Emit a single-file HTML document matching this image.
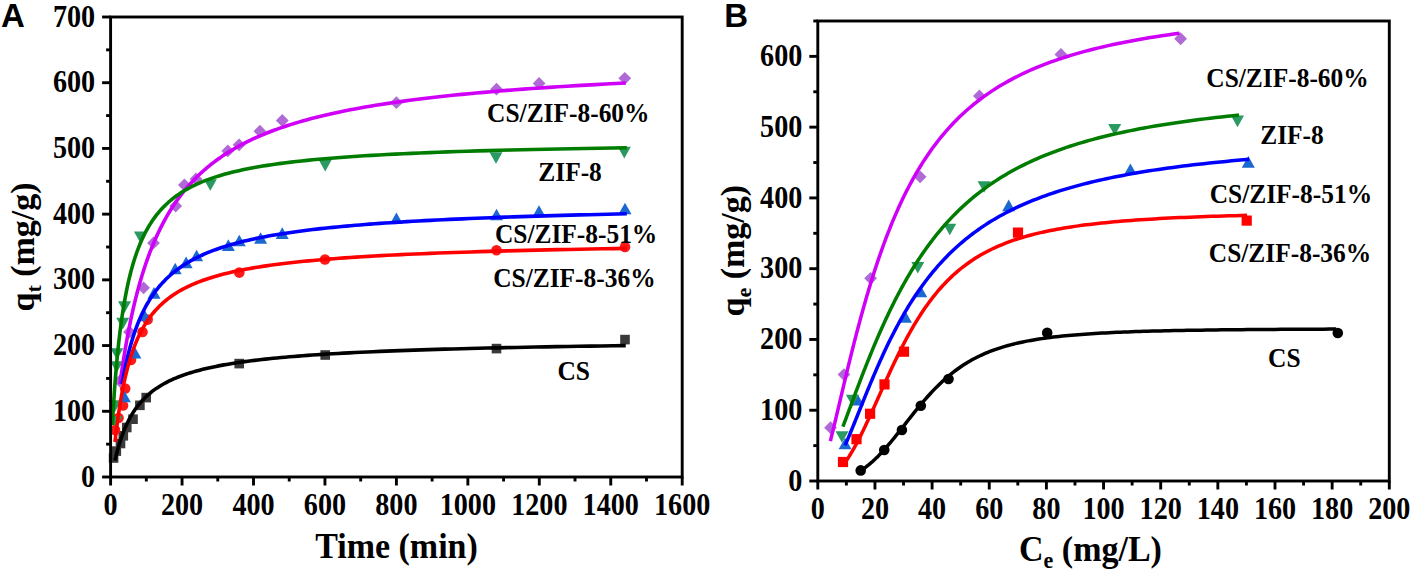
<!DOCTYPE html>
<html><head><meta charset="utf-8"><style>
html,body{margin:0;padding:0;background:#fff;}
body{width:1417px;height:576px;overflow:hidden;position:relative;}
svg{position:absolute;left:0;top:0;}
</style></head><body>
<svg width="1417" height="576" viewBox="0 0 1417 576">
<rect width="1417" height="576" fill="#fff"/>
<rect x="108.80" y="453.20" width="9.60" height="9.60" fill="#3a3a3a"/>
<rect x="111.50" y="446.30" width="9.60" height="9.60" fill="#3a3a3a"/>
<rect x="115.70" y="438.70" width="9.60" height="9.60" fill="#3a3a3a"/>
<rect x="118.50" y="431.00" width="9.60" height="9.60" fill="#3a3a3a"/>
<rect x="121.95" y="422.70" width="9.60" height="9.60" fill="#3a3a3a"/>
<rect x="128.20" y="414.40" width="9.60" height="9.60" fill="#3a3a3a"/>
<rect x="135.10" y="400.50" width="9.60" height="9.60" fill="#3a3a3a"/>
<rect x="141.40" y="392.80" width="9.60" height="9.60" fill="#3a3a3a"/>
<rect x="234.40" y="358.80" width="9.60" height="9.60" fill="#3a3a3a"/>
<rect x="320.40" y="350.20" width="9.60" height="9.60" fill="#3a3a3a"/>
<rect x="491.70" y="343.80" width="9.60" height="9.60" fill="#3a3a3a"/>
<rect x="620.20" y="334.80" width="9.60" height="9.60" fill="#3a3a3a"/>
<circle cx="115.00" cy="430.00" r="5.30" fill="#ff1a1a"/>
<circle cx="118.50" cy="418.00" r="5.30" fill="#ff1a1a"/>
<circle cx="123.00" cy="405.50" r="5.30" fill="#ff1a1a"/>
<circle cx="125.20" cy="388.50" r="5.30" fill="#ff1a1a"/>
<circle cx="131.00" cy="360.00" r="5.30" fill="#ff1a1a"/>
<circle cx="142.50" cy="332.00" r="5.30" fill="#ff1a1a"/>
<circle cx="147.70" cy="319.60" r="5.30" fill="#ff1a1a"/>
<circle cx="239.30" cy="272.60" r="5.30" fill="#ff1a1a"/>
<circle cx="325.00" cy="259.50" r="5.30" fill="#ff1a1a"/>
<circle cx="496.50" cy="250.30" r="5.30" fill="#ff1a1a"/>
<circle cx="625.00" cy="246.90" r="5.30" fill="#ff1a1a"/>
<path d="M124.40,390.77 L130.90,402.37 L117.90,402.37Z" fill="#1c68d2"/>
<path d="M134.90,346.97 L141.40,358.57 L128.40,358.57Z" fill="#1c68d2"/>
<path d="M144.50,309.57 L151.00,321.17 L138.00,321.17Z" fill="#1c68d2"/>
<path d="M154.00,287.07 L160.50,298.67 L147.50,298.67Z" fill="#1c68d2"/>
<path d="M175.20,262.77 L181.70,274.37 L168.70,274.37Z" fill="#1c68d2"/>
<path d="M186.10,256.57 L192.60,268.17 L179.60,268.17Z" fill="#1c68d2"/>
<path d="M196.60,249.77 L203.10,261.37 L190.10,261.37Z" fill="#1c68d2"/>
<path d="M228.30,239.37 L234.80,250.97 L221.80,250.97Z" fill="#1c68d2"/>
<path d="M239.30,234.67 L245.80,246.27 L232.80,246.27Z" fill="#1c68d2"/>
<path d="M260.60,232.27 L267.10,243.87 L254.10,243.87Z" fill="#1c68d2"/>
<path d="M282.20,227.37 L288.70,238.97 L275.70,238.97Z" fill="#1c68d2"/>
<path d="M396.40,212.47 L402.90,224.07 L389.90,224.07Z" fill="#1c68d2"/>
<path d="M496.50,208.77 L503.00,220.37 L490.00,220.37Z" fill="#1c68d2"/>
<path d="M539.00,205.27 L545.50,216.87 L532.50,216.87Z" fill="#1c68d2"/>
<path d="M625.00,202.67 L631.50,214.27 L618.50,214.27Z" fill="#1c68d2"/>
<path d="M115.00,411.73 L121.50,400.13 L108.50,400.13Z" fill="#2a9a62"/>
<path d="M115.80,427.73 L122.30,416.13 L109.30,416.13Z" fill="#2a9a62"/>
<path d="M116.70,372.73 L123.20,361.13 L110.20,361.13Z" fill="#2a9a62"/>
<path d="M116.90,359.73 L123.40,348.13 L110.40,348.13Z" fill="#2a9a62"/>
<path d="M122.75,329.43 L129.25,317.83 L116.25,317.83Z" fill="#2a9a62"/>
<path d="M124.50,312.93 L131.00,301.33 L118.00,301.33Z" fill="#2a9a62"/>
<path d="M140.40,243.03 L146.90,231.43 L133.90,231.43Z" fill="#2a9a62"/>
<path d="M210.30,190.73 L216.80,179.13 L203.80,179.13Z" fill="#2a9a62"/>
<path d="M325.20,171.43 L331.70,159.83 L318.70,159.83Z" fill="#2a9a62"/>
<path d="M496.00,163.73 L502.50,152.13 L489.50,152.13Z" fill="#2a9a62"/>
<path d="M624.30,158.43 L630.80,146.83 L617.80,146.83Z" fill="#2a9a62"/>
<path d="M119.80,374.60 L126.20,381.00 L119.80,387.40 L113.40,381.00Z" fill="#b06ad6"/>
<path d="M129.50,325.60 L135.90,332.00 L129.50,338.40 L123.10,332.00Z" fill="#b06ad6"/>
<path d="M143.60,281.40 L150.00,287.80 L143.60,294.20 L137.20,287.80Z" fill="#b06ad6"/>
<path d="M153.50,236.50 L159.90,242.90 L153.50,249.30 L147.10,242.90Z" fill="#b06ad6"/>
<path d="M175.70,199.60 L182.10,206.00 L175.70,212.40 L169.30,206.00Z" fill="#b06ad6"/>
<path d="M184.40,178.60 L190.80,185.00 L184.40,191.40 L178.00,185.00Z" fill="#b06ad6"/>
<path d="M196.00,172.60 L202.40,179.00 L196.00,185.40 L189.60,179.00Z" fill="#b06ad6"/>
<path d="M227.80,144.50 L234.20,150.90 L227.80,157.30 L221.40,150.90Z" fill="#b06ad6"/>
<path d="M239.10,138.40 L245.50,144.80 L239.10,151.20 L232.70,144.80Z" fill="#b06ad6"/>
<path d="M259.90,124.80 L266.30,131.20 L259.90,137.60 L253.50,131.20Z" fill="#b06ad6"/>
<path d="M282.30,114.10 L288.70,120.50 L282.30,126.90 L275.90,120.50Z" fill="#b06ad6"/>
<path d="M396.40,96.30 L402.80,102.70 L396.40,109.10 L390.00,102.70Z" fill="#b06ad6"/>
<path d="M496.50,82.80 L502.90,89.20 L496.50,95.60 L490.10,89.20Z" fill="#b06ad6"/>
<path d="M539.10,77.00 L545.50,83.40 L539.10,89.80 L532.70,83.40Z" fill="#b06ad6"/>
<path d="M624.80,71.90 L631.20,78.30 L624.80,84.70 L618.40,78.30Z" fill="#b06ad6"/>
<path d="M119.95,384.30 L120.14,382.89 L120.33,381.45 L120.53,380.01 L120.73,378.55 L120.94,377.07 L121.15,375.58 L121.36,374.07 L121.58,372.54 L121.81,371.00 L122.03,369.45 L122.27,367.88 L122.50,366.30 L122.75,364.70 L122.99,363.08 L123.25,361.45 L123.50,359.81 L123.77,358.15 L124.03,356.47 L124.31,354.78 L124.59,353.08 L124.87,351.36 L125.16,349.63 L125.46,347.89 L125.76,346.13 L126.07,344.36 L126.38,342.57 L126.70,340.78 L127.03,338.96 L127.37,337.14 L127.71,335.30 L128.06,333.46 L128.41,331.60 L128.77,329.72 L129.14,327.84 L129.52,325.95 L129.91,324.04 L130.30,322.12 L130.70,320.20 L131.11,318.26 L131.53,316.31 L131.95,314.36 L132.39,312.39 L132.83,310.42 L133.28,308.43 L133.74,306.44 L134.22,304.44 L134.70,302.44 L135.19,300.42 L135.69,298.40 L136.20,296.37 L136.72,294.34 L137.25,292.30 L137.79,290.26 L138.35,288.21 L138.91,286.15 L139.49,284.10 L140.07,282.03 L140.67,279.97 L141.29,277.90 L141.91,275.83 L142.55,273.76 L143.20,271.68 L143.86,269.60 L144.54,267.53 L145.23,265.45 L145.93,263.37 L146.65,261.29 L147.39,259.21 L148.14,257.14 L148.90,255.06 L149.68,252.99 L150.47,250.92 L151.29,248.85 L152.11,246.78 L152.96,244.72 L153.82,242.66 L154.70,240.61 L155.60,238.56 L156.51,236.51 L157.45,234.47 L158.40,232.44 L159.37,230.41 L160.37,228.39 L161.38,226.38 L162.41,224.37 L163.47,222.37 L164.54,220.38 L165.64,218.40 L166.76,216.42 L167.90,214.46 L169.07,212.50 L170.26,210.56 L171.47,208.62 L172.71,206.69 L173.98,204.78 L175.27,202.87 L176.58,200.98 L177.93,199.10 L179.30,197.23 L180.70,195.37 L182.12,193.52 L183.58,191.69 L185.06,189.86 L186.58,188.06 L188.12,186.26 L189.70,184.48 L191.31,182.71 L192.95,180.95 L194.63,179.21 L196.34,177.49 L198.09,175.77 L199.87,174.07 L201.68,172.39 L203.54,170.72 L205.43,169.07 L207.36,167.43 L209.33,165.80 L211.34,164.20 L213.39,162.60 L215.48,161.02 L217.61,159.46 L219.79,157.91 L222.01,156.38 L224.28,154.87 L226.59,153.37 L228.96,151.88 L231.36,150.41 L233.82,148.96 L236.33,147.53 L238.89,146.10 L241.50,144.70 L244.16,143.31 L246.88,141.94 L249.66,140.58 L252.49,139.24 L255.37,137.92 L258.32,136.61 L261.33,135.32 L264.39,134.04 L267.52,132.78 L270.72,131.53 L273.98,130.30 L277.30,129.09 L280.69,127.89 L284.16,126.71 L287.69,125.54 L291.29,124.39 L294.97,123.26 L298.72,122.13 L302.55,121.03 L306.46,119.94 L310.44,118.86 L314.51,117.80 L318.66,116.76 L322.89,115.72 L327.21,114.71 L331.62,113.71 L336.12,112.72 L340.71,111.74 L345.39,110.79 L350.17,109.84 L355.05,108.91 L360.02,107.99 L365.10,107.09 L370.28,106.20 L375.56,105.32 L380.96,104.46 L386.46,103.61 L392.07,102.77 L397.80,101.94 L403.65,101.13 L409.61,100.33 L415.70,99.55 L421.91,98.77 L428.24,98.01 L434.71,97.26 L441.30,96.52 L448.03,95.80 L454.90,95.08 L461.91,94.38 L469.06,93.69 L476.35,93.01 L483.80,92.34 L491.39,91.68 L499.14,91.03 L507.05,90.40 L515.12,89.77 L523.35,89.15 L531.75,88.55 L540.32,87.95 L549.07,87.37 L557.99,86.79 L567.10,86.23 L576.39,85.67 L585.87,85.13 L595.54,84.59 L605.41,84.06 L615.48,83.54 L625.75,83.03" fill="none" stroke="#d000f8" stroke-width="3.6" stroke-linejoin="round" stroke-linecap="butt"/>
<path d="M112.41,425.00 L112.46,423.97 L112.52,422.91 L112.57,421.84 L112.63,420.76 L112.69,419.65 L112.75,418.52 L112.81,417.38 L112.87,416.21 L112.94,415.03 L113.01,413.82 L113.08,412.60 L113.15,411.35 L113.22,410.09 L113.30,408.80 L113.37,407.50 L113.45,406.17 L113.54,404.82 L113.62,403.45 L113.71,402.06 L113.80,400.65 L113.89,399.22 L113.98,397.77 L114.08,396.29 L114.18,394.79 L114.28,393.28 L114.39,391.74 L114.50,390.18 L114.61,388.59 L114.73,386.99 L114.85,385.36 L114.97,383.72 L115.10,382.05 L115.22,380.36 L115.36,378.65 L115.50,376.91 L115.64,375.16 L115.78,373.39 L115.93,371.59 L116.08,369.78 L116.24,367.94 L116.40,366.09 L116.57,364.21 L116.74,362.32 L116.92,360.40 L117.10,358.47 L117.29,356.52 L117.48,354.55 L117.68,352.56 L117.89,350.55 L118.10,348.53 L118.31,346.49 L118.53,344.44 L118.76,342.37 L119.00,340.28 L119.24,338.18 L119.49,336.07 L119.74,333.94 L120.01,331.80 L120.28,329.65 L120.56,327.49 L120.84,325.31 L121.14,323.13 L121.44,320.93 L121.76,318.73 L122.08,316.52 L122.41,314.30 L122.75,312.07 L123.10,309.84 L123.46,307.61 L123.83,305.37 L124.21,303.12 L124.60,300.88 L125.01,298.63 L125.42,296.38 L125.85,294.13 L126.29,291.88 L126.74,289.64 L127.20,287.39 L127.68,285.15 L128.17,282.91 L128.68,280.68 L129.20,278.46 L129.74,276.24 L130.29,274.03 L130.86,271.82 L131.44,269.63 L132.04,267.45 L132.66,265.27 L133.29,263.11 L133.95,260.96 L134.62,258.82 L135.31,256.70 L136.02,254.59 L136.76,252.50 L137.51,250.42 L138.29,248.36 L139.08,246.32 L139.90,244.29 L140.75,242.29 L141.62,240.30 L142.51,238.33 L143.43,236.38 L144.38,234.46 L145.35,232.55 L146.35,230.66 L147.38,228.80 L148.44,226.96 L149.53,225.14 L150.65,223.35 L151.81,221.57 L152.99,219.82 L154.21,218.10 L155.47,216.40 L156.76,214.72 L158.09,213.07 L159.46,211.45 L160.87,209.84 L162.32,208.27 L163.81,206.72 L165.34,205.19 L166.92,203.69 L168.54,202.21 L170.21,200.76 L171.93,199.33 L173.70,197.93 L175.51,196.56 L177.38,195.21 L179.31,193.88 L181.29,192.58 L183.32,191.30 L185.42,190.05 L187.57,188.82 L189.79,187.62 L192.07,186.44 L194.42,185.29 L196.84,184.15 L199.32,183.05 L201.88,181.96 L204.51,180.90 L207.21,179.86 L210.00,178.84 L212.86,177.84 L215.81,176.87 L218.84,175.92 L221.96,174.99 L225.16,174.08 L228.46,173.19 L231.86,172.32 L235.35,171.47 L238.95,170.64 L242.65,169.83 L246.45,169.04 L250.36,168.27 L254.39,167.51 L258.53,166.78 L262.80,166.06 L267.18,165.36 L271.69,164.68 L276.33,164.01 L281.11,163.36 L286.02,162.73 L291.08,162.11 L296.28,161.50 L301.62,160.92 L307.13,160.34 L312.79,159.79 L318.62,159.24 L324.61,158.71 L330.77,158.20 L337.12,157.69 L343.64,157.20 L350.36,156.73 L357.27,156.26 L364.37,155.81 L371.69,155.37 L379.21,154.94 L386.95,154.53 L394.91,154.12 L403.10,153.72 L411.53,153.34 L420.20,152.97 L429.12,152.60 L438.29,152.25 L447.74,151.90 L457.45,151.57 L467.44,151.24 L477.72,150.92 L488.30,150.61 L499.18,150.31 L510.38,150.02 L521.90,149.74 L533.75,149.46 L545.94,149.20 L558.48,148.93 L571.38,148.68 L584.66,148.43 L598.32,148.19 L612.37,147.96 L626.83,147.74" fill="none" stroke="#007c00" stroke-width="3.6" stroke-linejoin="round" stroke-linecap="butt"/>
<path d="M122.06,384.00 L122.28,382.73 L122.51,381.45 L122.74,380.17 L122.97,378.88 L123.21,377.58 L123.45,376.28 L123.70,374.97 L123.96,373.66 L124.21,372.35 L124.48,371.03 L124.75,369.70 L125.02,368.37 L125.30,367.04 L125.58,365.70 L125.87,364.36 L126.17,363.02 L126.47,361.68 L126.77,360.33 L127.09,358.98 L127.40,357.63 L127.73,356.27 L128.06,354.92 L128.40,353.56 L128.74,352.20 L129.09,350.84 L129.45,349.49 L129.81,348.13 L130.18,346.77 L130.56,345.41 L130.95,344.05 L131.34,342.69 L131.74,341.34 L132.15,339.98 L132.57,338.63 L132.99,337.28 L133.42,335.93 L133.86,334.58 L134.31,333.24 L134.77,331.89 L135.24,330.56 L135.71,329.22 L136.20,327.89 L136.69,326.56 L137.20,325.23 L137.71,323.91 L138.23,322.60 L138.77,321.29 L139.31,319.98 L139.87,318.68 L140.43,317.38 L141.01,316.09 L141.60,314.80 L142.20,313.52 L142.81,312.25 L143.43,310.98 L144.06,309.72 L144.71,308.46 L145.37,307.22 L146.04,305.97 L146.72,304.74 L147.42,303.51 L148.13,302.29 L148.86,301.08 L149.60,299.87 L150.35,298.67 L151.12,297.48 L151.90,296.30 L152.70,295.13 L153.51,293.96 L154.34,292.80 L155.19,291.65 L156.05,290.51 L156.93,289.38 L157.82,288.25 L158.73,287.14 L159.66,286.03 L160.61,284.93 L161.58,283.84 L162.56,282.77 L163.56,281.69 L164.59,280.63 L165.63,279.58 L166.69,278.54 L167.78,277.50 L168.88,276.48 L170.01,275.47 L171.16,274.46 L172.33,273.46 L173.52,272.48 L174.73,271.50 L175.97,270.53 L177.23,269.58 L178.52,268.63 L179.83,267.69 L181.17,266.76 L182.54,265.84 L183.92,264.93 L185.34,264.03 L186.79,263.14 L188.26,262.26 L189.76,261.39 L191.29,260.53 L192.84,259.68 L194.43,258.83 L196.05,258.00 L197.70,257.18 L199.39,256.36 L201.10,255.56 L202.85,254.76 L204.63,253.97 L206.45,253.20 L208.30,252.43 L210.19,251.67 L212.11,250.92 L214.07,250.18 L216.07,249.45 L218.11,248.73 L220.19,248.02 L222.30,247.31 L224.46,246.62 L226.66,245.93 L228.90,245.25 L231.19,244.58 L233.52,243.92 L235.89,243.27 L238.31,242.63 L240.78,241.99 L243.29,241.37 L245.86,240.75 L248.47,240.14 L251.13,239.53 L253.85,238.94 L256.62,238.36 L259.44,237.78 L262.31,237.21 L265.24,236.65 L268.23,236.09 L271.27,235.54 L274.38,235.01 L277.54,234.47 L280.77,233.95 L284.06,233.43 L287.41,232.92 L290.82,232.42 L294.30,231.93 L297.85,231.44 L301.47,230.96 L305.16,230.48 L308.91,230.02 L312.75,229.56 L316.65,229.10 L320.63,228.66 L324.69,228.22 L328.82,227.78 L333.04,227.35 L337.34,226.93 L341.72,226.52 L346.18,226.11 L350.73,225.71 L355.37,225.31 L360.10,224.92 L364.92,224.53 L369.83,224.16 L374.84,223.78 L379.95,223.41 L385.15,223.05 L390.45,222.70 L395.86,222.35 L401.37,222.00 L406.99,221.66 L412.71,221.32 L418.55,221.00 L424.50,220.67 L430.56,220.35 L436.74,220.04 L443.04,219.73 L449.46,219.42 L456.01,219.12 L462.68,218.83 L469.49,218.54 L476.42,218.25 L483.49,217.97 L490.69,217.69 L498.03,217.42 L505.52,217.15 L513.14,216.89 L520.92,216.63 L528.85,216.37 L536.93,216.12 L545.16,215.87 L553.56,215.63 L562.11,215.39 L570.84,215.15 L579.73,214.92 L588.79,214.69 L598.03,214.47 L607.44,214.25 L617.04,214.03 L626.83,213.82" fill="none" stroke="#0000ff" stroke-width="3.6" stroke-linejoin="round" stroke-linecap="butt"/>
<path d="M114.97,442.00 L115.08,441.08 L115.19,440.14 L115.30,439.19 L115.41,438.22 L115.53,437.23 L115.65,436.22 L115.77,435.20 L115.90,434.16 L116.02,433.10 L116.16,432.03 L116.29,430.94 L116.43,429.83 L116.57,428.71 L116.72,427.57 L116.86,426.42 L117.02,425.24 L117.17,424.06 L117.33,422.85 L117.49,421.63 L117.66,420.40 L117.83,419.15 L118.01,417.89 L118.19,416.61 L118.37,415.32 L118.56,414.01 L118.75,412.69 L118.95,411.36 L119.16,410.01 L119.36,408.65 L119.58,407.28 L119.79,405.90 L120.02,404.50 L120.24,403.10 L120.48,401.68 L120.72,400.25 L120.96,398.81 L121.22,397.37 L121.47,395.91 L121.74,394.45 L122.01,392.97 L122.28,391.49 L122.57,390.01 L122.86,388.51 L123.16,387.01 L123.46,385.50 L123.77,383.99 L124.09,382.48 L124.42,380.95 L124.75,379.43 L125.10,377.90 L125.45,376.37 L125.81,374.84 L126.18,373.30 L126.56,371.76 L126.94,370.22 L127.34,368.69 L127.75,367.15 L128.16,365.61 L128.59,364.07 L129.03,362.54 L129.47,361.01 L129.93,359.48 L130.40,357.95 L130.88,356.42 L131.37,354.90 L131.88,353.39 L132.39,351.88 L132.92,350.37 L133.46,348.87 L134.02,347.38 L134.59,345.89 L135.17,344.41 L135.77,342.94 L136.38,341.47 L137.00,340.01 L137.64,338.56 L138.30,337.12 L138.97,335.69 L139.66,334.27 L140.36,332.85 L141.09,331.45 L141.83,330.06 L142.58,328.68 L143.36,327.30 L144.16,325.94 L144.97,324.59 L145.80,323.26 L146.66,321.93 L147.53,320.62 L148.43,319.31 L149.35,318.02 L150.29,316.75 L151.25,315.48 L152.24,314.23 L153.25,312.99 L154.28,311.77 L155.34,310.55 L156.43,309.35 L157.54,308.17 L158.68,306.99 L159.85,305.84 L161.04,304.69 L162.26,303.56 L163.52,302.44 L164.80,301.34 L166.12,300.25 L167.47,299.17 L168.85,298.11 L170.26,297.06 L171.71,296.03 L173.19,295.00 L174.71,294.00 L176.26,293.00 L177.86,292.03 L179.49,291.06 L181.16,290.11 L182.87,289.17 L184.63,288.25 L186.42,287.33 L188.26,286.44 L190.15,285.55 L192.08,284.68 L194.06,283.83 L196.08,282.98 L198.16,282.15 L200.28,281.33 L202.46,280.53 L204.68,279.73 L206.97,278.95 L209.31,278.19 L211.70,277.43 L214.16,276.69 L216.67,275.96 L219.24,275.24 L221.88,274.54 L224.58,273.84 L227.34,273.16 L230.18,272.49 L233.08,271.83 L236.05,271.19 L239.10,270.55 L242.21,269.92 L245.41,269.31 L248.68,268.71 L252.03,268.11 L255.46,267.53 L258.98,266.96 L262.58,266.40 L266.27,265.85 L270.04,265.31 L273.91,264.78 L277.88,264.25 L281.93,263.74 L286.09,263.24 L290.35,262.75 L294.71,262.26 L299.18,261.79 L303.76,261.32 L308.44,260.87 L313.24,260.42 L318.16,259.98 L323.20,259.55 L328.36,259.12 L333.64,258.71 L339.05,258.30 L344.60,257.90 L350.28,257.51 L356.09,257.13 L362.05,256.75 L368.15,256.38 L374.40,256.02 L380.80,255.67 L387.36,255.32 L394.08,254.98 L400.95,254.64 L408.00,254.32 L415.22,254.00 L422.61,253.68 L430.18,253.37 L437.94,253.07 L445.88,252.78 L454.02,252.49 L462.35,252.20 L470.88,251.93 L479.63,251.65 L488.58,251.39 L497.75,251.12 L507.15,250.87 L516.77,250.62 L526.63,250.37 L536.72,250.13 L547.06,249.90 L557.66,249.66 L568.50,249.44 L579.62,249.22 L591.00,249.00 L602.66,248.79 L614.60,248.58 L626.83,248.38" fill="none" stroke="#ff0000" stroke-width="3.6" stroke-linejoin="round" stroke-linecap="butt"/>
<path d="M114.90,460.60 L115.01,460.16 L115.12,459.72 L115.22,459.27 L115.34,458.80 L115.45,458.33 L115.57,457.85 L115.69,457.36 L115.82,456.87 L115.94,456.36 L116.07,455.84 L116.21,455.32 L116.34,454.79 L116.48,454.24 L116.63,453.69 L116.77,453.13 L116.92,452.56 L117.08,451.98 L117.23,451.39 L117.40,450.80 L117.56,450.19 L117.73,449.58 L117.90,448.96 L118.08,448.32 L118.26,447.68 L118.45,447.04 L118.64,446.38 L118.84,445.71 L119.04,445.04 L119.24,444.36 L119.45,443.67 L119.67,442.97 L119.89,442.26 L120.11,441.55 L120.35,440.83 L120.58,440.10 L120.83,439.37 L121.08,438.63 L121.33,437.88 L121.59,437.12 L121.86,436.36 L122.13,435.59 L122.41,434.82 L122.70,434.04 L123.00,433.25 L123.30,432.46 L123.61,431.66 L123.92,430.86 L124.25,430.05 L124.58,429.24 L124.92,428.42 L125.27,427.60 L125.63,426.78 L125.99,425.95 L126.37,425.12 L126.75,424.28 L127.14,423.44 L127.54,422.60 L127.96,421.76 L128.38,420.91 L128.81,420.06 L129.26,419.21 L129.71,418.36 L130.17,417.51 L130.65,416.66 L131.14,415.80 L131.64,414.95 L132.15,414.09 L132.68,413.23 L133.21,412.38 L133.76,411.52 L134.33,410.67 L134.90,409.82 L135.50,408.96 L136.10,408.11 L136.72,407.26 L137.36,406.42 L138.01,405.57 L138.68,404.73 L139.36,403.89 L140.06,403.05 L140.78,402.21 L141.51,401.38 L142.26,400.55 L143.03,399.73 L143.82,398.91 L144.63,398.09 L145.46,397.28 L146.31,396.47 L147.18,395.66 L148.07,394.86 L148.98,394.07 L149.91,393.28 L150.87,392.49 L151.85,391.71 L152.85,390.94 L153.88,390.17 L154.94,389.40 L156.01,388.65 L157.12,387.89 L158.25,387.15 L159.41,386.41 L160.60,385.68 L161.82,384.95 L163.06,384.23 L164.34,383.52 L165.65,382.81 L166.99,382.11 L168.36,381.41 L169.77,380.73 L171.21,380.05 L172.68,379.37 L174.19,378.71 L175.74,378.05 L177.32,377.40 L178.95,376.75 L180.61,376.11 L182.32,375.48 L184.06,374.86 L185.85,374.24 L187.68,373.64 L189.56,373.03 L191.48,372.44 L193.45,371.85 L195.46,371.27 L197.53,370.70 L199.64,370.14 L201.81,369.58 L204.03,369.03 L206.30,368.49 L208.63,367.95 L211.02,367.42 L213.46,366.90 L215.97,366.39 L218.53,365.88 L221.16,365.38 L223.85,364.89 L226.60,364.40 L229.43,363.92 L232.32,363.45 L235.28,362.98 L238.32,362.53 L241.42,362.08 L244.61,361.63 L247.87,361.19 L251.21,360.76 L254.63,360.34 L258.14,359.92 L261.73,359.51 L265.41,359.10 L269.17,358.70 L273.03,358.31 L276.99,357.93 L281.04,357.55 L285.18,357.17 L289.43,356.80 L293.78,356.44 L298.24,356.09 L302.81,355.74 L307.49,355.39 L312.28,355.05 L317.19,354.72 L322.22,354.39 L327.37,354.07 L332.64,353.76 L338.04,353.45 L343.58,353.14 L349.25,352.84 L355.06,352.55 L361.01,352.26 L367.10,351.97 L373.34,351.69 L379.74,351.42 L386.29,351.15 L393.00,350.88 L399.87,350.62 L406.91,350.37 L414.12,350.11 L421.51,349.87 L429.08,349.63 L436.83,349.39 L444.77,349.15 L452.90,348.93 L461.23,348.70 L469.76,348.48 L478.50,348.26 L487.46,348.05 L496.63,347.84 L506.03,347.64 L515.65,347.43 L525.51,347.24 L535.60,347.04 L545.95,346.85 L556.54,346.67 L567.40,346.48 L578.51,346.30 L589.90,346.13 L601.57,345.95 L613.51,345.78 L625.75,345.62" fill="none" stroke="#000000" stroke-width="3.6" stroke-linejoin="round" stroke-linecap="butt"/>
<circle cx="860.70" cy="470.40" r="5.30" fill="#000000"/>
<circle cx="884.25" cy="450.00" r="5.30" fill="#000000"/>
<circle cx="901.90" cy="430.00" r="5.30" fill="#000000"/>
<circle cx="920.80" cy="405.70" r="5.30" fill="#000000"/>
<circle cx="948.50" cy="379.00" r="5.30" fill="#000000"/>
<circle cx="1047.20" cy="332.80" r="5.30" fill="#000000"/>
<circle cx="1337.80" cy="333.00" r="5.30" fill="#000000"/>
<rect x="837.90" y="456.90" width="10.20" height="10.20" fill="#ff0000"/>
<rect x="851.40" y="434.10" width="10.20" height="10.20" fill="#ff0000"/>
<rect x="865.00" y="408.65" width="10.20" height="10.20" fill="#ff0000"/>
<rect x="879.40" y="379.30" width="10.20" height="10.20" fill="#ff0000"/>
<rect x="898.90" y="346.60" width="10.20" height="10.20" fill="#ff0000"/>
<rect x="1012.90" y="227.50" width="10.20" height="10.20" fill="#ff0000"/>
<rect x="1241.60" y="215.50" width="10.20" height="10.20" fill="#ff0000"/>
<path d="M845.10,437.67 L851.60,449.27 L838.60,449.27Z" fill="#1c68d2"/>
<path d="M857.60,393.97 L864.10,405.57 L851.10,405.57Z" fill="#1c68d2"/>
<path d="M905.40,311.07 L911.90,322.67 L898.90,322.67Z" fill="#1c68d2"/>
<path d="M920.80,285.67 L927.30,297.27 L914.30,297.27Z" fill="#1c68d2"/>
<path d="M1008.70,199.57 L1015.20,211.17 L1002.20,211.17Z" fill="#1c68d2"/>
<path d="M1130.40,163.47 L1136.90,175.07 L1123.90,175.07Z" fill="#1c68d2"/>
<path d="M1248.30,156.07 L1254.80,167.67 L1241.80,167.67Z" fill="#1c68d2"/>
<path d="M842.00,442.73 L848.50,431.13 L835.50,431.13Z" fill="#2a9a62"/>
<path d="M852.40,406.23 L858.90,394.63 L845.90,394.63Z" fill="#2a9a62"/>
<path d="M917.80,273.53 L924.30,261.93 L911.30,261.93Z" fill="#2a9a62"/>
<path d="M949.80,235.23 L956.30,223.63 L943.30,223.63Z" fill="#2a9a62"/>
<path d="M984.10,192.83 L990.60,181.23 L977.60,181.23Z" fill="#2a9a62"/>
<path d="M1114.70,135.53 L1121.20,123.93 L1108.20,123.93Z" fill="#2a9a62"/>
<path d="M1237.50,127.13 L1244.00,115.53 L1231.00,115.53Z" fill="#2a9a62"/>
<path d="M830.50,421.30 L836.90,427.70 L830.50,434.10 L824.10,427.70Z" fill="#b06ad6"/>
<path d="M844.00,368.20 L850.40,374.60 L844.00,381.00 L837.60,374.60Z" fill="#b06ad6"/>
<path d="M870.60,271.90 L877.00,278.30 L870.60,284.70 L864.20,278.30Z" fill="#b06ad6"/>
<path d="M920.10,170.40 L926.50,176.80 L920.10,183.20 L913.70,176.80Z" fill="#b06ad6"/>
<path d="M979.40,89.50 L985.80,95.90 L979.40,102.30 L973.00,95.90Z" fill="#b06ad6"/>
<path d="M1060.90,48.00 L1067.30,54.40 L1060.90,60.80 L1054.50,54.40Z" fill="#b06ad6"/>
<path d="M1180.60,32.35 L1187.00,38.75 L1180.60,45.15 L1174.20,38.75Z" fill="#b06ad6"/>
<path d="M830.37,441.06 L830.59,440.20 L830.80,439.32 L831.03,438.43 L831.25,437.51 L831.48,436.58 L831.71,435.64 L831.95,434.67 L832.19,433.68 L832.44,432.68 L832.69,431.65 L832.94,430.61 L833.20,429.54 L833.46,428.46 L833.73,427.35 L834.00,426.22 L834.27,425.08 L834.55,423.91 L834.84,422.71 L835.13,421.50 L835.42,420.26 L835.72,419.00 L836.03,417.72 L836.34,416.41 L836.65,415.08 L836.97,413.73 L837.30,412.35 L837.63,410.95 L837.97,409.52 L838.31,408.07 L838.66,406.59 L839.02,405.09 L839.38,403.56 L839.75,402.00 L840.12,400.42 L840.50,398.81 L840.89,397.18 L841.28,395.51 L841.68,393.82 L842.09,392.11 L842.50,390.36 L842.92,388.59 L843.35,386.79 L843.78,384.97 L844.23,383.11 L844.68,381.23 L845.13,379.31 L845.60,377.37 L846.07,375.40 L846.55,373.41 L847.04,371.38 L847.54,369.32 L848.05,367.24 L848.56,365.13 L849.09,362.99 L849.62,360.82 L850.16,358.62 L850.71,356.39 L851.27,354.14 L851.84,351.85 L852.42,349.54 L853.01,347.20 L853.61,344.84 L854.22,342.44 L854.84,340.02 L855.47,337.57 L856.11,335.10 L856.76,332.60 L857.43,330.07 L858.10,327.51 L858.79,324.93 L859.49,322.33 L860.19,319.70 L860.92,317.05 L861.65,314.37 L862.40,311.68 L863.16,308.95 L863.93,306.21 L864.71,303.45 L865.51,300.66 L866.32,297.85 L867.15,295.03 L867.99,292.19 L868.85,289.32 L869.71,286.44 L870.60,283.55 L871.50,280.64 L872.41,277.71 L873.34,274.77 L874.29,271.81 L875.25,268.85 L876.23,265.87 L877.22,262.88 L878.23,259.88 L879.26,256.87 L880.31,253.85 L881.37,250.83 L882.45,247.80 L883.56,244.77 L884.67,241.73 L885.81,238.69 L886.97,235.64 L888.15,232.60 L889.35,229.55 L890.56,226.51 L891.80,223.46 L893.06,220.42 L894.34,217.38 L895.65,214.35 L896.97,211.33 L898.32,208.31 L899.69,205.30 L901.09,202.29 L902.50,199.30 L903.95,196.32 L905.41,193.35 L906.90,190.39 L908.42,187.44 L909.96,184.51 L911.53,181.60 L913.13,178.70 L914.75,175.81 L916.40,172.95 L918.08,170.10 L919.79,167.27 L921.53,164.47 L923.29,161.68 L925.09,158.92 L926.91,156.17 L928.77,153.46 L930.66,150.76 L932.58,148.09 L934.54,145.44 L936.52,142.82 L938.54,140.22 L940.60,137.66 L942.69,135.11 L944.82,132.60 L946.98,130.11 L949.18,127.65 L951.42,125.22 L953.69,122.82 L956.00,120.45 L958.36,118.10 L960.75,115.79 L963.18,113.51 L965.66,111.25 L968.18,109.03 L970.74,106.84 L973.34,104.68 L975.99,102.54 L978.68,100.44 L981.42,98.38 L984.21,96.34 L987.04,94.33 L989.92,92.35 L992.85,90.41 L995.83,88.49 L998.86,86.61 L1001.94,84.76 L1005.08,82.94 L1008.27,81.14 L1011.51,79.38 L1014.81,77.65 L1018.16,75.95 L1021.57,74.28 L1025.04,72.64 L1028.57,71.03 L1032.16,69.44 L1035.81,67.89 L1039.52,66.36 L1043.29,64.87 L1047.13,63.40 L1051.04,61.96 L1055.01,60.55 L1059.05,59.16 L1063.15,57.80 L1067.33,56.47 L1071.58,55.17 L1075.90,53.89 L1080.29,52.63 L1084.76,51.41 L1089.31,50.20 L1093.93,49.03 L1098.63,47.87 L1103.41,46.74 L1108.28,45.64 L1113.22,44.55 L1118.25,43.49 L1123.37,42.46 L1128.57,41.44 L1133.86,40.45 L1139.24,39.48 L1144.71,38.53 L1150.28,37.60 L1155.94,36.69 L1161.69,35.80 L1167.55,34.94 L1173.50,34.09 L1179.56,33.26" fill="none" stroke="#d000f8" stroke-width="3.5" stroke-linejoin="round" stroke-linecap="butt"/>
<path d="M842.95,426.59 L843.30,425.63 L843.67,424.66 L844.04,423.68 L844.41,422.68 L844.79,421.66 L845.18,420.63 L845.57,419.59 L845.96,418.53 L846.36,417.45 L846.77,416.36 L847.19,415.25 L847.60,414.13 L848.03,412.98 L848.46,411.83 L848.90,410.65 L849.34,409.46 L849.79,408.25 L850.25,407.03 L850.71,405.79 L851.18,404.53 L851.66,403.25 L852.14,401.96 L852.63,400.65 L853.13,399.32 L853.63,397.98 L854.14,396.61 L854.66,395.23 L855.18,393.83 L855.72,392.42 L856.26,390.98 L856.81,389.53 L857.36,388.06 L857.93,386.58 L858.50,385.07 L859.08,383.55 L859.67,382.01 L860.27,380.45 L860.87,378.87 L861.49,377.28 L862.11,375.67 L862.74,374.04 L863.38,372.39 L864.03,370.73 L864.69,369.05 L865.36,367.35 L866.04,365.63 L866.73,363.90 L867.43,362.15 L868.13,360.38 L868.85,358.60 L869.58,356.80 L870.32,354.99 L871.07,353.15 L871.83,351.31 L872.60,349.44 L873.38,347.56 L874.17,345.67 L874.98,343.76 L875.79,341.84 L876.62,339.90 L877.46,337.95 L878.31,335.98 L879.17,334.01 L880.05,332.01 L880.94,330.01 L881.84,327.99 L882.75,325.96 L883.68,323.92 L884.62,321.87 L885.57,319.81 L886.53,317.73 L887.52,315.65 L888.51,313.56 L889.52,311.45 L890.54,309.34 L891.58,307.22 L892.63,305.10 L893.70,302.96 L894.78,300.82 L895.88,298.67 L896.99,296.52 L898.12,294.36 L899.27,292.20 L900.43,290.03 L901.61,287.86 L902.80,285.68 L904.02,283.50 L905.25,281.32 L906.49,279.14 L907.76,276.96 L909.04,274.77 L910.34,272.59 L911.66,270.41 L913.00,268.23 L914.36,266.05 L915.74,263.87 L917.13,261.70 L918.55,259.52 L919.99,257.36 L921.45,255.20 L922.92,253.04 L924.42,250.89 L925.94,248.74 L927.49,246.60 L929.05,244.47 L930.64,242.34 L932.25,240.23 L933.88,238.12 L935.54,236.02 L937.22,233.94 L938.92,231.86 L940.65,229.79 L942.40,227.73 L944.18,225.69 L945.98,223.66 L947.81,221.64 L949.66,219.63 L951.54,217.64 L953.45,215.66 L955.38,213.69 L957.35,211.74 L959.34,209.81 L961.36,207.88 L963.40,205.98 L965.48,204.09 L967.59,202.22 L969.72,200.36 L971.89,198.52 L974.09,196.70 L976.32,194.89 L978.58,193.11 L980.87,191.34 L983.20,189.58 L985.56,187.85 L987.95,186.14 L990.38,184.44 L992.84,182.76 L995.33,181.10 L997.87,179.46 L1000.44,177.84 L1003.04,176.24 L1005.68,174.66 L1008.36,173.10 L1011.08,171.56 L1013.84,170.03 L1016.63,168.53 L1019.47,167.05 L1022.35,165.58 L1025.26,164.14 L1028.22,162.72 L1031.22,161.31 L1034.27,159.93 L1037.36,158.56 L1040.49,157.22 L1043.66,155.89 L1046.89,154.59 L1050.15,153.30 L1053.47,152.03 L1056.83,150.79 L1060.24,149.56 L1063.70,148.35 L1067.20,147.16 L1070.76,145.99 L1074.37,144.83 L1078.03,143.70 L1081.74,142.58 L1085.51,141.49 L1089.32,140.41 L1093.20,139.35 L1097.12,138.31 L1101.11,137.28 L1105.15,136.27 L1109.25,135.28 L1113.41,134.31 L1117.62,133.36 L1121.90,132.42 L1126.24,131.50 L1130.64,130.59 L1135.10,129.70 L1139.62,128.83 L1144.21,127.97 L1148.87,127.13 L1153.59,126.31 L1158.38,125.50 L1163.24,124.70 L1168.17,123.92 L1173.16,123.16 L1178.23,122.41 L1183.37,121.67 L1188.59,120.95 L1193.88,120.24 L1199.24,119.55 L1204.68,118.87 L1210.20,118.20 L1215.80,117.55 L1221.47,116.91 L1227.23,116.28 L1233.07,115.66 L1239.00,115.06" fill="none" stroke="#007c00" stroke-width="3.5" stroke-linejoin="round" stroke-linecap="butt"/>
<path d="M845.09,445.25 L845.47,444.38 L845.86,443.50 L846.25,442.60 L846.65,441.68 L847.05,440.75 L847.46,439.80 L847.87,438.83 L848.29,437.84 L848.72,436.83 L849.15,435.80 L849.59,434.76 L850.03,433.69 L850.48,432.61 L850.94,431.50 L851.40,430.38 L851.87,429.24 L852.35,428.08 L852.83,426.90 L853.32,425.70 L853.82,424.48 L854.32,423.24 L854.83,421.98 L855.35,420.70 L855.87,419.40 L856.40,418.08 L856.94,416.74 L857.49,415.38 L858.04,414.00 L858.61,412.60 L859.18,411.18 L859.75,409.74 L860.34,408.28 L860.93,406.80 L861.54,405.31 L862.15,403.79 L862.77,402.25 L863.39,400.69 L864.03,399.12 L864.68,397.53 L865.33,395.91 L866.00,394.28 L866.67,392.63 L867.35,390.96 L868.04,389.28 L868.75,387.58 L869.46,385.86 L870.18,384.12 L870.91,382.36 L871.65,380.59 L872.41,378.81 L873.17,377.01 L873.94,375.19 L874.73,373.36 L875.52,371.51 L876.33,369.65 L877.15,367.77 L877.97,365.88 L878.82,363.98 L879.67,362.07 L880.53,360.14 L881.41,358.20 L882.30,356.25 L883.20,354.29 L884.11,352.33 L885.04,350.35 L885.98,348.36 L886.93,346.36 L887.90,344.35 L888.87,342.34 L889.87,340.32 L890.87,338.30 L891.90,336.26 L892.93,334.22 L893.98,332.18 L895.04,330.14 L896.12,328.08 L897.22,326.03 L898.33,323.97 L899.45,321.92 L900.59,319.86 L901.75,317.80 L902.92,315.74 L904.11,313.68 L905.32,311.62 L906.54,309.56 L907.78,307.50 L909.04,305.45 L910.31,303.40 L911.60,301.35 L912.91,299.31 L914.24,297.27 L915.59,295.24 L916.95,293.21 L918.34,291.19 L919.74,289.17 L921.17,287.17 L922.61,285.17 L924.08,283.18 L925.56,281.20 L927.07,279.22 L928.59,277.26 L930.14,275.31 L931.71,273.36 L933.30,271.43 L934.92,269.51 L936.55,267.60 L938.21,265.71 L939.89,263.82 L941.60,261.95 L943.33,260.09 L945.08,258.25 L946.86,256.42 L948.66,254.60 L950.49,252.80 L952.34,251.01 L954.22,249.24 L956.13,247.48 L958.06,245.74 L960.02,244.01 L962.01,242.30 L964.02,240.61 L966.07,238.93 L968.14,237.27 L970.24,235.62 L972.37,234.00 L974.53,232.39 L976.71,230.79 L978.93,229.22 L981.19,227.66 L983.47,226.12 L985.78,224.59 L988.13,223.08 L990.51,221.60 L992.92,220.13 L995.37,218.67 L997.85,217.24 L1000.36,215.82 L1002.91,214.42 L1005.50,213.04 L1008.12,211.67 L1010.78,210.33 L1013.48,209.00 L1016.21,207.69 L1018.98,206.39 L1021.79,205.12 L1024.64,203.86 L1027.53,202.62 L1030.46,201.40 L1033.43,200.19 L1036.44,199.01 L1039.50,197.84 L1042.60,196.68 L1045.74,195.55 L1048.92,194.43 L1052.15,193.32 L1055.42,192.24 L1058.74,191.17 L1062.11,190.12 L1065.52,189.08 L1068.98,188.06 L1072.49,187.06 L1076.05,186.07 L1079.66,185.10 L1083.31,184.14 L1087.02,183.20 L1090.78,182.27 L1094.60,181.36 L1098.47,180.47 L1102.39,179.59 L1106.36,178.72 L1110.39,177.87 L1114.48,177.04 L1118.62,176.21 L1122.83,175.41 L1127.09,174.61 L1131.41,173.83 L1135.79,173.06 L1140.23,172.31 L1144.74,171.57 L1149.30,170.84 L1153.93,170.13 L1158.63,169.43 L1163.39,168.74 L1168.22,168.06 L1173.11,167.40 L1178.08,166.74 L1183.11,166.10 L1188.21,165.47 L1193.39,164.86 L1198.64,164.25 L1203.96,163.66 L1209.35,163.07 L1214.82,162.50 L1220.37,161.94 L1225.99,161.39 L1231.69,160.85 L1237.48,160.31 L1243.34,159.79 L1249.28,159.28" fill="none" stroke="#0000ff" stroke-width="3.5" stroke-linejoin="round" stroke-linecap="butt"/>
<path d="M842.95,465.24 L843.31,464.77 L843.67,464.29 L844.04,463.79 L844.42,463.29 L844.80,462.76 L845.19,462.22 L845.59,461.67 L845.98,461.10 L846.39,460.52 L846.80,459.92 L847.22,459.30 L847.64,458.67 L848.07,458.02 L848.50,457.35 L848.94,456.66 L849.39,455.96 L849.84,455.23 L850.30,454.49 L850.77,453.72 L851.24,452.94 L851.72,452.13 L852.21,451.31 L852.70,450.46 L853.21,449.59 L853.71,448.70 L854.23,447.78 L854.75,446.85 L855.28,445.88 L855.82,444.90 L856.37,443.89 L856.92,442.85 L857.48,441.79 L858.05,440.71 L858.63,439.59 L859.22,438.45 L859.81,437.29 L860.42,436.10 L861.03,434.88 L861.65,433.63 L862.28,432.35 L862.92,431.05 L863.56,429.71 L864.22,428.35 L864.89,426.96 L865.56,425.54 L866.25,424.09 L866.95,422.60 L867.65,421.09 L868.37,419.55 L869.09,417.98 L869.83,416.38 L870.58,414.75 L871.34,413.09 L872.10,411.40 L872.88,409.68 L873.67,407.93 L874.48,406.15 L875.29,404.34 L876.12,402.50 L876.95,400.63 L877.80,398.74 L878.66,396.81 L879.54,394.86 L880.43,392.88 L881.32,390.88 L882.24,388.85 L883.16,386.79 L884.10,384.71 L885.05,382.61 L886.02,380.48 L887.00,378.34 L887.99,376.17 L889.00,373.98 L890.02,371.77 L891.06,369.54 L892.11,367.30 L893.18,365.04 L894.26,362.77 L895.36,360.48 L896.47,358.18 L897.60,355.87 L898.75,353.55 L899.91,351.22 L901.09,348.89 L902.29,346.55 L903.50,344.21 L904.73,341.86 L905.98,339.51 L907.24,337.17 L908.53,334.82 L909.83,332.48 L911.15,330.15 L912.49,327.82 L913.85,325.49 L915.23,323.18 L916.63,320.88 L918.05,318.59 L919.49,316.31 L920.95,314.05 L922.43,311.80 L923.93,309.57 L925.46,307.36 L927.00,305.17 L928.57,303.00 L930.16,300.85 L931.78,298.73 L933.41,296.63 L935.07,294.55 L936.76,292.50 L938.46,290.48 L940.20,288.48 L941.95,286.51 L943.74,284.57 L945.55,282.67 L947.38,280.79 L949.24,278.94 L951.13,277.12 L953.04,275.33 L954.98,273.58 L956.95,271.86 L958.95,270.17 L960.98,268.51 L963.04,266.89 L965.12,265.30 L967.24,263.74 L969.38,262.22 L971.56,260.73 L973.77,259.27 L976.01,257.84 L978.28,256.45 L980.58,255.09 L982.92,253.76 L985.29,252.46 L987.70,251.20 L990.14,249.97 L992.61,248.76 L995.12,247.59 L997.67,246.45 L1000.25,245.34 L1002.87,244.26 L1005.53,243.21 L1008.22,242.18 L1010.96,241.19 L1013.73,240.22 L1016.54,239.28 L1019.40,238.36 L1022.29,237.47 L1025.23,236.61 L1028.21,235.77 L1031.23,234.96 L1034.29,234.17 L1037.40,233.40 L1040.56,232.66 L1043.75,231.94 L1047.00,231.24 L1050.29,230.57 L1053.63,229.91 L1057.02,229.28 L1060.45,228.66 L1063.93,228.06 L1067.47,227.49 L1071.05,226.93 L1074.69,226.39 L1078.38,225.86 L1082.12,225.35 L1085.92,224.86 L1089.77,224.39 L1093.67,223.93 L1097.63,223.49 L1101.65,223.06 L1105.73,222.64 L1109.86,222.24 L1114.06,221.85 L1118.31,221.48 L1122.63,221.11 L1127.00,220.76 L1131.44,220.43 L1135.95,220.10 L1140.51,219.78 L1145.15,219.48 L1149.85,219.18 L1154.62,218.90 L1159.45,218.62 L1164.36,218.36 L1169.34,218.10 L1174.38,217.85 L1179.50,217.62 L1184.70,217.38 L1189.97,217.16 L1195.31,216.95 L1200.73,216.74 L1206.23,216.54 L1211.81,216.35 L1217.47,216.16 L1223.20,215.98 L1229.03,215.81 L1234.93,215.64 L1240.92,215.48 L1247.00,215.32" fill="none" stroke="#ff0000" stroke-width="3.5" stroke-linejoin="round" stroke-linecap="butt"/>
<path d="M860.66,470.64 L861.20,470.29 L861.75,469.93 L862.30,469.56 L862.86,469.18 L863.43,468.79 L864.01,468.38 L864.59,467.97 L865.18,467.54 L865.78,467.09 L866.38,466.63 L866.99,466.16 L867.61,465.67 L868.24,465.17 L868.88,464.66 L869.52,464.12 L870.17,463.58 L870.83,463.01 L871.50,462.43 L872.18,461.83 L872.87,461.22 L873.56,460.58 L874.26,459.93 L874.97,459.26 L875.69,458.57 L876.42,457.86 L877.16,457.14 L877.91,456.39 L878.67,455.62 L879.44,454.83 L880.21,454.02 L881.00,453.19 L881.80,452.34 L882.60,451.47 L883.42,450.57 L884.25,449.65 L885.08,448.71 L885.93,447.75 L886.79,446.76 L887.66,445.76 L888.54,444.73 L889.43,443.67 L890.34,442.60 L891.25,441.50 L892.18,440.38 L893.11,439.23 L894.06,438.06 L895.02,436.87 L896.00,435.66 L896.98,434.43 L897.98,433.17 L898.99,431.90 L900.02,430.60 L901.05,429.28 L902.10,427.95 L903.16,426.59 L904.24,425.21 L905.33,423.82 L906.43,422.41 L907.55,420.99 L908.68,419.54 L909.83,418.09 L910.99,416.62 L912.16,415.14 L913.35,413.64 L914.55,412.14 L915.77,410.63 L917.01,409.10 L918.26,407.57 L919.53,406.04 L920.81,404.50 L922.11,402.96 L923.42,401.41 L924.75,399.87 L926.10,398.32 L927.47,396.78 L928.85,395.24 L930.25,393.70 L931.67,392.17 L933.10,390.65 L934.55,389.14 L936.03,387.63 L937.52,386.14 L939.02,384.66 L940.55,383.19 L942.10,381.74 L943.67,380.30 L945.25,378.88 L946.86,377.48 L948.49,376.09 L950.13,374.73 L951.80,373.38 L953.49,372.06 L955.20,370.75 L956.93,369.47 L958.69,368.22 L960.46,366.98 L962.26,365.77 L964.08,364.59 L965.93,363.42 L967.79,362.29 L969.68,361.18 L971.60,360.09 L973.54,359.03 L975.50,358.00 L977.49,356.99 L979.50,356.01 L981.54,355.05 L983.60,354.12 L985.69,353.21 L987.81,352.33 L989.95,351.48 L992.12,350.64 L994.32,349.84 L996.54,349.06 L998.80,348.30 L1001.08,347.56 L1003.39,346.85 L1005.73,346.16 L1008.10,345.49 L1010.49,344.84 L1012.92,344.22 L1015.38,343.62 L1017.87,343.03 L1020.40,342.47 L1022.95,341.93 L1025.53,341.40 L1028.15,340.89 L1030.80,340.41 L1033.49,339.93 L1036.21,339.48 L1038.96,339.04 L1041.75,338.62 L1044.57,338.22 L1047.43,337.82 L1050.32,337.45 L1053.26,337.09 L1056.22,336.74 L1059.23,336.40 L1062.27,336.08 L1065.35,335.77 L1068.47,335.47 L1071.63,335.19 L1074.83,334.91 L1078.07,334.65 L1081.35,334.39 L1084.67,334.15 L1088.04,333.92 L1091.44,333.69 L1094.89,333.48 L1098.39,333.27 L1101.92,333.07 L1105.50,332.88 L1109.13,332.70 L1112.80,332.52 L1116.52,332.35 L1120.29,332.19 L1124.10,332.04 L1127.96,331.89 L1131.87,331.75 L1135.83,331.61 L1139.84,331.48 L1143.90,331.35 L1148.01,331.23 L1152.17,331.12 L1156.38,331.01 L1160.65,330.90 L1164.97,330.80 L1169.35,330.70 L1173.78,330.61 L1178.27,330.52 L1182.81,330.44 L1187.41,330.35 L1192.07,330.28 L1196.79,330.20 L1201.56,330.13 L1206.40,330.06 L1211.30,329.99 L1216.26,329.93 L1221.28,329.87 L1226.37,329.81 L1231.52,329.76 L1236.73,329.70 L1242.01,329.65 L1247.36,329.61 L1252.78,329.56 L1258.26,329.51 L1263.81,329.47 L1269.43,329.43 L1275.12,329.39 L1280.89,329.35 L1286.73,329.32 L1292.64,329.28 L1298.62,329.25 L1304.68,329.22 L1310.82,329.19 L1317.03,329.16 L1323.33,329.13 L1329.70,329.11 L1336.15,329.08" fill="none" stroke="#000000" stroke-width="3.5" stroke-linejoin="round" stroke-linecap="butt"/>
<rect x="110.60" y="17.00" width="571.60" height="460.00" fill="none" stroke="#000" stroke-width="2.9"/>
<line x1="110.60" y1="477.00" x2="110.60" y2="485.50" stroke="#000" stroke-width="2.9"/>
<line x1="182.05" y1="477.00" x2="182.05" y2="485.50" stroke="#000" stroke-width="2.9"/>
<line x1="253.50" y1="477.00" x2="253.50" y2="485.50" stroke="#000" stroke-width="2.9"/>
<line x1="324.95" y1="477.00" x2="324.95" y2="485.50" stroke="#000" stroke-width="2.9"/>
<line x1="396.40" y1="477.00" x2="396.40" y2="485.50" stroke="#000" stroke-width="2.9"/>
<line x1="467.85" y1="477.00" x2="467.85" y2="485.50" stroke="#000" stroke-width="2.9"/>
<line x1="539.30" y1="477.00" x2="539.30" y2="485.50" stroke="#000" stroke-width="2.9"/>
<line x1="610.75" y1="477.00" x2="610.75" y2="485.50" stroke="#000" stroke-width="2.9"/>
<line x1="682.20" y1="477.00" x2="682.20" y2="485.50" stroke="#000" stroke-width="2.9"/>
<line x1="146.32" y1="477.00" x2="146.32" y2="481.50" stroke="#000" stroke-width="2.9"/>
<line x1="217.77" y1="477.00" x2="217.77" y2="481.50" stroke="#000" stroke-width="2.9"/>
<line x1="289.23" y1="477.00" x2="289.23" y2="481.50" stroke="#000" stroke-width="2.9"/>
<line x1="360.67" y1="477.00" x2="360.67" y2="481.50" stroke="#000" stroke-width="2.9"/>
<line x1="432.12" y1="477.00" x2="432.12" y2="481.50" stroke="#000" stroke-width="2.9"/>
<line x1="503.58" y1="477.00" x2="503.58" y2="481.50" stroke="#000" stroke-width="2.9"/>
<line x1="575.02" y1="477.00" x2="575.02" y2="481.50" stroke="#000" stroke-width="2.9"/>
<line x1="646.48" y1="477.00" x2="646.48" y2="481.50" stroke="#000" stroke-width="2.9"/>
<line x1="110.60" y1="477.00" x2="102.10" y2="477.00" stroke="#000" stroke-width="2.9"/>
<line x1="110.60" y1="411.29" x2="102.10" y2="411.29" stroke="#000" stroke-width="2.9"/>
<line x1="110.60" y1="345.57" x2="102.10" y2="345.57" stroke="#000" stroke-width="2.9"/>
<line x1="110.60" y1="279.86" x2="102.10" y2="279.86" stroke="#000" stroke-width="2.9"/>
<line x1="110.60" y1="214.14" x2="102.10" y2="214.14" stroke="#000" stroke-width="2.9"/>
<line x1="110.60" y1="148.43" x2="102.10" y2="148.43" stroke="#000" stroke-width="2.9"/>
<line x1="110.60" y1="82.71" x2="102.10" y2="82.71" stroke="#000" stroke-width="2.9"/>
<line x1="110.60" y1="17.00" x2="102.10" y2="17.00" stroke="#000" stroke-width="2.9"/>
<line x1="110.60" y1="444.14" x2="106.10" y2="444.14" stroke="#000" stroke-width="2.9"/>
<line x1="110.60" y1="378.43" x2="106.10" y2="378.43" stroke="#000" stroke-width="2.9"/>
<line x1="110.60" y1="312.71" x2="106.10" y2="312.71" stroke="#000" stroke-width="2.9"/>
<line x1="110.60" y1="247.00" x2="106.10" y2="247.00" stroke="#000" stroke-width="2.9"/>
<line x1="110.60" y1="181.29" x2="106.10" y2="181.29" stroke="#000" stroke-width="2.9"/>
<line x1="110.60" y1="115.57" x2="106.10" y2="115.57" stroke="#000" stroke-width="2.9"/>
<line x1="110.60" y1="49.86" x2="106.10" y2="49.86" stroke="#000" stroke-width="2.9"/>
<rect x="817.80" y="21.00" width="571.50" height="460.00" fill="none" stroke="#000" stroke-width="2.9"/>
<line x1="817.80" y1="481.00" x2="817.80" y2="489.50" stroke="#000" stroke-width="2.9"/>
<line x1="874.95" y1="481.00" x2="874.95" y2="489.50" stroke="#000" stroke-width="2.9"/>
<line x1="932.10" y1="481.00" x2="932.10" y2="489.50" stroke="#000" stroke-width="2.9"/>
<line x1="989.25" y1="481.00" x2="989.25" y2="489.50" stroke="#000" stroke-width="2.9"/>
<line x1="1046.40" y1="481.00" x2="1046.40" y2="489.50" stroke="#000" stroke-width="2.9"/>
<line x1="1103.55" y1="481.00" x2="1103.55" y2="489.50" stroke="#000" stroke-width="2.9"/>
<line x1="1160.70" y1="481.00" x2="1160.70" y2="489.50" stroke="#000" stroke-width="2.9"/>
<line x1="1217.85" y1="481.00" x2="1217.85" y2="489.50" stroke="#000" stroke-width="2.9"/>
<line x1="1275.00" y1="481.00" x2="1275.00" y2="489.50" stroke="#000" stroke-width="2.9"/>
<line x1="1332.15" y1="481.00" x2="1332.15" y2="489.50" stroke="#000" stroke-width="2.9"/>
<line x1="1389.30" y1="481.00" x2="1389.30" y2="489.50" stroke="#000" stroke-width="2.9"/>
<line x1="846.38" y1="481.00" x2="846.38" y2="485.50" stroke="#000" stroke-width="2.9"/>
<line x1="903.52" y1="481.00" x2="903.52" y2="485.50" stroke="#000" stroke-width="2.9"/>
<line x1="960.67" y1="481.00" x2="960.67" y2="485.50" stroke="#000" stroke-width="2.9"/>
<line x1="1017.82" y1="481.00" x2="1017.82" y2="485.50" stroke="#000" stroke-width="2.9"/>
<line x1="1074.97" y1="481.00" x2="1074.97" y2="485.50" stroke="#000" stroke-width="2.9"/>
<line x1="1132.12" y1="481.00" x2="1132.12" y2="485.50" stroke="#000" stroke-width="2.9"/>
<line x1="1189.28" y1="481.00" x2="1189.28" y2="485.50" stroke="#000" stroke-width="2.9"/>
<line x1="1246.42" y1="481.00" x2="1246.42" y2="485.50" stroke="#000" stroke-width="2.9"/>
<line x1="1303.57" y1="481.00" x2="1303.57" y2="485.50" stroke="#000" stroke-width="2.9"/>
<line x1="1360.72" y1="481.00" x2="1360.72" y2="485.50" stroke="#000" stroke-width="2.9"/>
<line x1="817.80" y1="481.00" x2="809.30" y2="481.00" stroke="#000" stroke-width="2.9"/>
<line x1="817.80" y1="410.23" x2="809.30" y2="410.23" stroke="#000" stroke-width="2.9"/>
<line x1="817.80" y1="339.46" x2="809.30" y2="339.46" stroke="#000" stroke-width="2.9"/>
<line x1="817.80" y1="268.69" x2="809.30" y2="268.69" stroke="#000" stroke-width="2.9"/>
<line x1="817.80" y1="197.92" x2="809.30" y2="197.92" stroke="#000" stroke-width="2.9"/>
<line x1="817.80" y1="127.15" x2="809.30" y2="127.15" stroke="#000" stroke-width="2.9"/>
<line x1="817.80" y1="56.38" x2="809.30" y2="56.38" stroke="#000" stroke-width="2.9"/>
<line x1="817.80" y1="445.62" x2="813.30" y2="445.62" stroke="#000" stroke-width="2.9"/>
<line x1="817.80" y1="374.85" x2="813.30" y2="374.85" stroke="#000" stroke-width="2.9"/>
<line x1="817.80" y1="304.08" x2="813.30" y2="304.08" stroke="#000" stroke-width="2.9"/>
<line x1="817.80" y1="233.31" x2="813.30" y2="233.31" stroke="#000" stroke-width="2.9"/>
<line x1="817.80" y1="162.54" x2="813.30" y2="162.54" stroke="#000" stroke-width="2.9"/>
<line x1="817.80" y1="91.77" x2="813.30" y2="91.77" stroke="#000" stroke-width="2.9"/>
<line x1="817.80" y1="21.00" x2="813.30" y2="21.00" stroke="#000" stroke-width="2.9"/>
<text transform="translate(110.60,514.80) scale(0.955,1.045)" font-family="&quot;Liberation Serif&quot;, serif" font-weight="bold" font-size="29.5" text-anchor="middle">0</text>
<text transform="translate(182.05,514.80) scale(0.955,1.045)" font-family="&quot;Liberation Serif&quot;, serif" font-weight="bold" font-size="29.5" text-anchor="middle">200</text>
<text transform="translate(253.50,514.80) scale(0.955,1.045)" font-family="&quot;Liberation Serif&quot;, serif" font-weight="bold" font-size="29.5" text-anchor="middle">400</text>
<text transform="translate(324.95,514.80) scale(0.955,1.045)" font-family="&quot;Liberation Serif&quot;, serif" font-weight="bold" font-size="29.5" text-anchor="middle">600</text>
<text transform="translate(396.40,514.80) scale(0.955,1.045)" font-family="&quot;Liberation Serif&quot;, serif" font-weight="bold" font-size="29.5" text-anchor="middle">800</text>
<text transform="translate(467.85,514.80) scale(0.955,1.045)" font-family="&quot;Liberation Serif&quot;, serif" font-weight="bold" font-size="29.5" text-anchor="middle">1000</text>
<text transform="translate(539.30,514.80) scale(0.955,1.045)" font-family="&quot;Liberation Serif&quot;, serif" font-weight="bold" font-size="29.5" text-anchor="middle">1200</text>
<text transform="translate(610.75,514.80) scale(0.955,1.045)" font-family="&quot;Liberation Serif&quot;, serif" font-weight="bold" font-size="29.5" text-anchor="middle">1400</text>
<text transform="translate(682.20,514.80) scale(0.955,1.045)" font-family="&quot;Liberation Serif&quot;, serif" font-weight="bold" font-size="29.5" text-anchor="middle">1600</text>
<text transform="translate(95.20,486.60) scale(0.955,1.045)" font-family="&quot;Liberation Serif&quot;, serif" font-weight="bold" font-size="29.5" text-anchor="end">0</text>
<text transform="translate(95.20,420.89) scale(0.955,1.045)" font-family="&quot;Liberation Serif&quot;, serif" font-weight="bold" font-size="29.5" text-anchor="end">100</text>
<text transform="translate(95.20,355.17) scale(0.955,1.045)" font-family="&quot;Liberation Serif&quot;, serif" font-weight="bold" font-size="29.5" text-anchor="end">200</text>
<text transform="translate(95.20,289.46) scale(0.955,1.045)" font-family="&quot;Liberation Serif&quot;, serif" font-weight="bold" font-size="29.5" text-anchor="end">300</text>
<text transform="translate(95.20,223.74) scale(0.955,1.045)" font-family="&quot;Liberation Serif&quot;, serif" font-weight="bold" font-size="29.5" text-anchor="end">400</text>
<text transform="translate(95.20,158.03) scale(0.955,1.045)" font-family="&quot;Liberation Serif&quot;, serif" font-weight="bold" font-size="29.5" text-anchor="end">500</text>
<text transform="translate(95.20,92.31) scale(0.955,1.045)" font-family="&quot;Liberation Serif&quot;, serif" font-weight="bold" font-size="29.5" text-anchor="end">600</text>
<text transform="translate(95.20,26.60) scale(0.955,1.045)" font-family="&quot;Liberation Serif&quot;, serif" font-weight="bold" font-size="29.5" text-anchor="end">700</text>
<text transform="translate(817.80,518.60) scale(0.955,1.045)" font-family="&quot;Liberation Serif&quot;, serif" font-weight="bold" font-size="29.5" text-anchor="middle">0</text>
<text transform="translate(874.95,518.60) scale(0.955,1.045)" font-family="&quot;Liberation Serif&quot;, serif" font-weight="bold" font-size="29.5" text-anchor="middle">20</text>
<text transform="translate(932.10,518.60) scale(0.955,1.045)" font-family="&quot;Liberation Serif&quot;, serif" font-weight="bold" font-size="29.5" text-anchor="middle">40</text>
<text transform="translate(989.25,518.60) scale(0.955,1.045)" font-family="&quot;Liberation Serif&quot;, serif" font-weight="bold" font-size="29.5" text-anchor="middle">60</text>
<text transform="translate(1046.40,518.60) scale(0.955,1.045)" font-family="&quot;Liberation Serif&quot;, serif" font-weight="bold" font-size="29.5" text-anchor="middle">80</text>
<text transform="translate(1103.55,518.60) scale(0.955,1.045)" font-family="&quot;Liberation Serif&quot;, serif" font-weight="bold" font-size="29.5" text-anchor="middle">100</text>
<text transform="translate(1160.70,518.60) scale(0.955,1.045)" font-family="&quot;Liberation Serif&quot;, serif" font-weight="bold" font-size="29.5" text-anchor="middle">120</text>
<text transform="translate(1217.85,518.60) scale(0.955,1.045)" font-family="&quot;Liberation Serif&quot;, serif" font-weight="bold" font-size="29.5" text-anchor="middle">140</text>
<text transform="translate(1275.00,518.60) scale(0.955,1.045)" font-family="&quot;Liberation Serif&quot;, serif" font-weight="bold" font-size="29.5" text-anchor="middle">160</text>
<text transform="translate(1332.15,518.60) scale(0.955,1.045)" font-family="&quot;Liberation Serif&quot;, serif" font-weight="bold" font-size="29.5" text-anchor="middle">180</text>
<text transform="translate(1389.30,518.60) scale(0.955,1.045)" font-family="&quot;Liberation Serif&quot;, serif" font-weight="bold" font-size="29.5" text-anchor="middle">200</text>
<text transform="translate(802.30,490.60) scale(0.955,1.045)" font-family="&quot;Liberation Serif&quot;, serif" font-weight="bold" font-size="29.5" text-anchor="end">0</text>
<text transform="translate(802.30,419.83) scale(0.955,1.045)" font-family="&quot;Liberation Serif&quot;, serif" font-weight="bold" font-size="29.5" text-anchor="end">100</text>
<text transform="translate(802.30,349.06) scale(0.955,1.045)" font-family="&quot;Liberation Serif&quot;, serif" font-weight="bold" font-size="29.5" text-anchor="end">200</text>
<text transform="translate(802.30,278.29) scale(0.955,1.045)" font-family="&quot;Liberation Serif&quot;, serif" font-weight="bold" font-size="29.5" text-anchor="end">300</text>
<text transform="translate(802.30,207.52) scale(0.955,1.045)" font-family="&quot;Liberation Serif&quot;, serif" font-weight="bold" font-size="29.5" text-anchor="end">400</text>
<text transform="translate(802.30,136.75) scale(0.955,1.045)" font-family="&quot;Liberation Serif&quot;, serif" font-weight="bold" font-size="29.5" text-anchor="end">500</text>
<text transform="translate(802.30,65.98) scale(0.955,1.045)" font-family="&quot;Liberation Serif&quot;, serif" font-weight="bold" font-size="29.5" text-anchor="end">600</text>
<text transform="translate(487.10,121.80) scale(0.978,1.045)" font-family="&quot;Liberation Serif&quot;, serif" font-weight="bold" font-size="26" text-anchor="start">CS/ZIF-8-60%</text>
<text transform="translate(538.30,181.20) scale(0.978,1.045)" font-family="&quot;Liberation Serif&quot;, serif" font-weight="bold" font-size="26" text-anchor="start">ZIF-8</text>
<text transform="translate(494.90,242.50) scale(0.978,1.045)" font-family="&quot;Liberation Serif&quot;, serif" font-weight="bold" font-size="26" text-anchor="start">CS/ZIF-8-51%</text>
<text transform="translate(493.20,286.80) scale(0.978,1.045)" font-family="&quot;Liberation Serif&quot;, serif" font-weight="bold" font-size="26" text-anchor="start">CS/ZIF-8-36%</text>
<text transform="translate(557.40,379.90) scale(0.978,1.045)" font-family="&quot;Liberation Serif&quot;, serif" font-weight="bold" font-size="26" text-anchor="start">CS</text>
<text transform="translate(1206.30,86.60) scale(0.978,1.045)" font-family="&quot;Liberation Serif&quot;, serif" font-weight="bold" font-size="26" text-anchor="start">CS/ZIF-8-60%</text>
<text transform="translate(1260.20,143.60) scale(0.978,1.045)" font-family="&quot;Liberation Serif&quot;, serif" font-weight="bold" font-size="26" text-anchor="start">ZIF-8</text>
<text transform="translate(1209.70,203.00) scale(0.978,1.045)" font-family="&quot;Liberation Serif&quot;, serif" font-weight="bold" font-size="26" text-anchor="start">CS/ZIF-8-51%</text>
<text transform="translate(1208.80,262.00) scale(0.978,1.045)" font-family="&quot;Liberation Serif&quot;, serif" font-weight="bold" font-size="26" text-anchor="start">CS/ZIF-8-36%</text>
<text transform="translate(1268.10,367.00) scale(0.978,1.045)" font-family="&quot;Liberation Serif&quot;, serif" font-weight="bold" font-size="26" text-anchor="start">CS</text>
<text transform="translate(1.00,26.70) scale(1.0,1.0)" font-family="&quot;Liberation Sans&quot;, sans-serif" font-weight="bold" font-size="33" text-anchor="start">A</text>
<text transform="translate(724.20,26.70) scale(1.0,1.0)" font-family="&quot;Liberation Sans&quot;, sans-serif" font-weight="bold" font-size="33" text-anchor="start">B</text>
<text transform="translate(396.5,558) scale(1,1.04)" font-family="&quot;Liberation Serif&quot;, serif" font-weight="bold" font-size="34" text-anchor="middle">Time (min)</text>
<text transform="translate(1019,561) scale(1,1.04)" font-family="&quot;Liberation Serif&quot;, serif" font-weight="bold" font-size="34">C<tspan font-size="22" dy="7">e</tspan><tspan dy="-7"> (mg/L)</tspan></text>
<text transform="translate(34.0,311.5) rotate(-90) scale(1,0.98)" font-family="&quot;Liberation Serif&quot;, serif" font-weight="bold" font-size="34">q<tspan font-size="22" dy="7">t</tspan><tspan dy="-7"> (mg/g)</tspan></text>
<text transform="translate(744.0,316.5) rotate(-90) scale(1,0.98)" font-family="&quot;Liberation Serif&quot;, serif" font-weight="bold" font-size="34">q<tspan font-size="22" dy="7">e</tspan><tspan dy="-7"> (mg/g)</tspan></text>
</svg>
</body></html>
